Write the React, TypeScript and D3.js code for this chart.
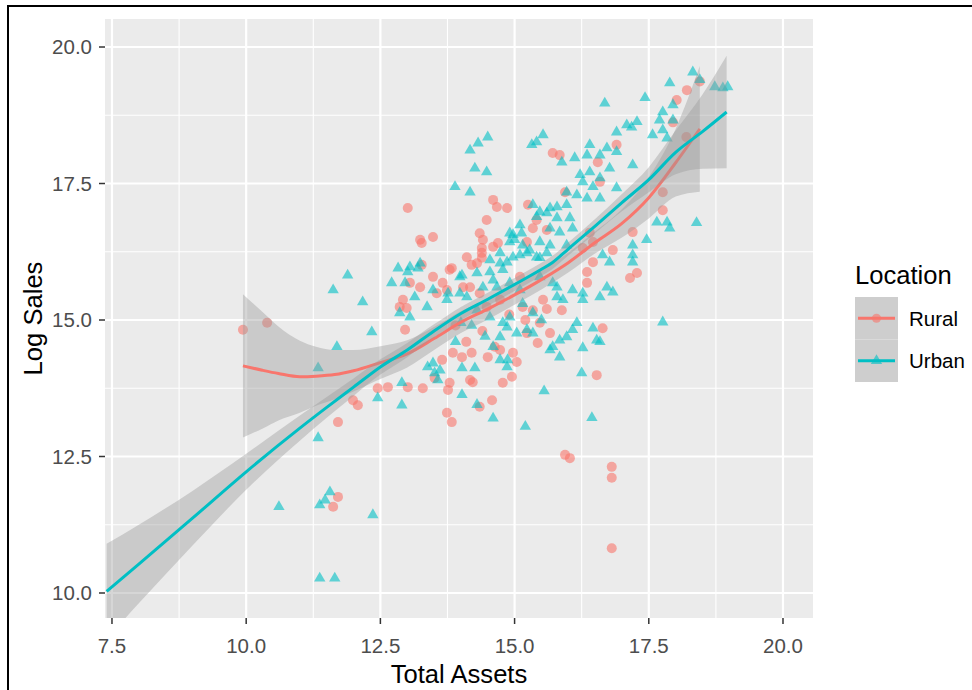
import React from "react";
import * as d3 from "d3";

const xTicks = [7.5, 10, 12.5, 15, 17.5, 20];
const yTicks = [10, 12.5, 15, 17.5, 20];
const xMinor = [8.75, 11.25, 13.75, 16.25, 18.75];
const yMinor = [11.25, 13.75, 16.25, 18.75];
const categories = ["Rural", "Urban"];
const colors = ["#F8766D", "#00BFC4"];
const xTitle = "Total Assets";
const yTitle = "Log Sales";
const legendTitle = "Location";

const ruralPoints: [number, number][] = [
  [9.94, 14.82], [10.39, 14.95],
  [13.01, 17.05], [14.48, 16.83], [14.67, 17.07], [13.48, 16.52], [13.27, 16.41], [14.39, 16.32], [14.69, 16.41],
  [14.39, 16.14], [13.83, 15.95], [14.2, 16.01], [13.27, 16.01],
  [12.92, 15.37], [12.99, 15.22], [13.05, 15.68], [13.79, 15.92], [13.66, 15.68], [13.55, 15.49], [14.04, 15.6],
  [14.3, 16.04], [14.39, 16.23],
  [13.74, 13.3], [13.83, 13.13], [14.35, 13.41], [14.17, 13.9], [13.76, 13.72], [11.99, 13.53], [12.08, 13.44],
  [11.71, 13.13], [13.01, 13.77], [12.64, 13.77], [12.45, 13.75], [13.51, 13.94], [13.65, 14.27], [14.02, 14.32],
  [14.5, 14.32], [14.63, 14.51], [12.96, 14.82],
  [11.62, 11.58], [11.71, 11.76],
  [16.35, 15.68], [15.88, 15.18], [15.15, 15.24], [15.47, 14.95], [15.43, 14.58], [16.64, 14.85], [14.97, 14.4],
  [15.04, 14.23], [14.95, 13.96], [14.78, 13.85], [16.53, 13.99], [15.94, 12.53], [16.03, 12.47], [16.81, 12.31],
  [16.81, 12.11], [16.81, 10.82], [14.73, 14.45],
  [13.29, 13.75], [13.79, 13.85], [14.22, 13.86], [14.58, 13.53], [13.85, 14.4], [14.2, 14.4],
  [13.24, 16.47], [14.11, 16.15], [14.41, 16.47], [14.6, 16.34], [14.35, 16.59], [14.6, 17.2], [14.17, 15.6],
  [14.35, 15.49], [14.73, 15.37], [14.48, 15.24], [13.74, 15.55], [13.48, 15.79], [13.24, 15.6], [12.86, 15.24],
  [15.34, 15.18], [15.53, 15.37], [15.23, 14.76], [15.66, 14.76], [15.1, 15.79],
  [18.45, 19.37], [18.21, 19.21], [18.02, 19.03], [16.9, 18.21], [15.71, 18.06], [15.84, 18.02], [16.55, 17.89],
  [16.59, 17.53], [15.94, 17.34], [15.25, 17.11], [14.86, 17.05], [15.41, 16.83], [15.34, 16.68], [15.6, 16.65],
  [15.23, 16.43], [17.76, 17.34], [17.76, 17.01], [17.2, 16.61], [16.46, 16.43], [16.27, 16.32], [16.46, 16.06],
  [16.35, 15.88], [17.15, 15.77], [17.95, 18.62], [18.2, 18.35], [16.4, 16.6], [17.28, 15.86], [16.83, 16.28],
  [14.9, 15.1], [15.2, 15.0], [15.6, 15.2], [14.4, 14.8], [14.1, 14.6], [13.9, 14.9],
];

const urbanPoints: [number, number][] = [
  [18.32, 19.54], [18.88, 19.25], [18.73, 19.27], [18.97, 19.27], [18.45, 19.4], [17.89, 19.34], [17.43, 19.07],
  [16.68, 18.97], [17.95, 18.94], [17.76, 18.81], [17.7, 18.66], [17.95, 18.66], [17.28, 18.63], [17.18, 18.53],
  [17.09, 18.57], [16.9, 18.44], [17.57, 18.39], [17.76, 18.48], [17.84, 18.33], [15.53, 18.39], [15.41, 18.26],
  [15.32, 18.21], [16.4, 18.21], [16.72, 18.15], [16.9, 18.08], [16.12, 17.97], [15.88, 17.89], [16.35, 18.02],
  [16.59, 18.02], [16.77, 17.78], [17.2, 17.84], [16.22, 17.66], [16.4, 17.71], [16.59, 17.6], [16.27, 17.53],
  [16.46, 17.44], [15.97, 17.34], [16.16, 17.29], [16.9, 17.42], [16.35, 17.23], [16.59, 17.23], [15.97, 17.11],
  [15.66, 17.05], [15.34, 17.11], [15.47, 16.98], [15.79, 16.87], [16.03, 16.87], [15.1, 16.74], [14.97, 16.56],
  [15.66, 16.68], [15.84, 16.61], [16.08, 16.68], [14.91, 16.43], [15.15, 16.37], [15.47, 16.43], [15.66, 16.37],
  [15.97, 16.37], [15.1, 16.19], [15.47, 16.14], [14.86, 16.06], [17.65, 16.79], [17.84, 16.79], [17.89, 16.68],
  [18.39, 16.78], [17.46, 16.47], [17.2, 16.37], [17.2, 16.19], [17.2, 16.06], [16.64, 16.19], [16.77, 16.06],
  [17.76, 14.96],
  [14.5, 18.35], [14.32, 18.24], [14.17, 18.11], [14.26, 17.78], [14.48, 17.71], [13.89, 17.44], [14.17, 17.34],
  [11.89, 15.82], [11.62, 15.55], [12.17, 15.33], [12.34, 14.78], [11.69, 14.51], [11.34, 14.12], [12.45, 13.57],
  [12.9, 13.44], [11.34, 12.84],
  [10.61, 11.58], [11.37, 11.61], [11.47, 11.7], [11.56, 11.85], [12.36, 11.43], [11.37, 10.27], [11.65, 10.27],
  [12.83, 15.95], [13.01, 15.88], [13.2, 15.95], [12.71, 15.68], [12.96, 15.68], [13.14, 15.42], [14.54, 15.88],
  [14.02, 15.82], [13.98, 15.49], [13.76, 15.49], [13.38, 14.14], [13.51, 14.03], [13.57, 13.9], [14.26, 14.12],
  [14.02, 14.12], [12.9, 13.85], [14.02, 13.63],
  [15.79, 15.6], [16.27, 15.49], [16.27, 15.37], [16.59, 15.42], [16.72, 15.6], [16.83, 15.51], [15.79, 15.42],
  [15.34, 15.13], [15.23, 14.82], [15.34, 14.76], [14.91, 15.05], [14.78, 14.95], [16.16, 14.95], [16.08, 14.82],
  [15.97, 14.69], [15.84, 14.63], [15.71, 14.51], [15.66, 14.45], [15.84, 14.32], [16.27, 14.49], [16.46, 14.85],
  [16.53, 14.63], [16.59, 14.6], [16.25, 14.03], [16.44, 13.21], [14.86, 14.14], [14.87, 14.27],
  [15.13, 16.59], [15.41, 16.89], [15.6, 16.96], [15.79, 17.07], [15.28, 16.28], [14.97, 16.15], [14.73, 16.04],
  [14.6, 15.73], [14.78, 15.92],
  [13.05, 15.97], [13.24, 16.04], [13.98, 15.79], [14.3, 15.86], [14.91, 16.59], [15.0, 16.47], [15.23, 16.23],
  [14.73, 16.23], [14.54, 16.1], [15.41, 16.15], [15.6, 16.23], [15.47, 15.79], [15.71, 15.68], [16.08, 15.55],
  [15.9, 15.37], [14.91, 15.68], [15.1, 15.55], [14.67, 15.6], [14.41, 15.6], [14.11, 15.42], [13.74, 15.37],
  [13.48, 15.55], [13.37, 15.24], [13.05, 15.05], [12.86, 15.13], [14.3, 15.18], [14.54, 15.05], [14.86, 14.87],
  [15.04, 14.76], [14.73, 14.69], [13.48, 14.21], [13.61, 14.08], [14.73, 14.27], [14.6, 14.51],
  [14.3, 13.45], [14.6, 13.2], [15.2, 13.05], [15.55, 13.7],
  [14.2, 14.9], [14.45, 14.7], [15.5, 15.0], [15.15, 15.3], [13.9, 14.6], [14.0, 14.95],
];

// [x, fitted y, standard-error half width]
const ruralFit: [number, number, number][] = [
  [9.94, 14.16, 1.31], [10.3, 14.08, 1.07], [10.6, 14.02, 0.86], [11.0, 13.96, 0.66], [11.3, 13.97, 0.54],
  [11.65, 14.0, 0.45], [12.0, 14.07, 0.38], [12.5, 14.22, 0.3], [13.0, 14.38, 0.25], [13.5, 14.66, 0.21],
  [14.0, 14.96, 0.2], [14.5, 15.2, 0.19], [15.0, 15.46, 0.18], [15.5, 15.74, 0.18], [16.0, 16.05, 0.18],
  [16.5, 16.42, 0.2], [17.0, 16.77, 0.26], [17.5, 17.24, 0.38], [18.0, 17.88, 0.62], [18.45, 18.5, 1.15],
];

const urbanFit: [number, number, number][] = [
  [7.4, 10.03, 0.87], [8.0, 10.53, 0.72], [9.0, 11.37, 0.5], [10.0, 12.22, 0.33], [11.0, 13.02, 0.23],
  [11.5, 13.4, 0.19], [12.0, 13.77, 0.16], [12.5, 14.14, 0.14], [13.0, 14.45, 0.13], [13.5, 14.8, 0.12],
  [14.0, 15.12, 0.12], [14.5, 15.38, 0.12], [15.0, 15.65, 0.12], [15.5, 15.93, 0.12], [15.7, 16.05, 0.12],
  [16.0, 16.3, 0.12], [16.5, 16.72, 0.13], [17.0, 17.15, 0.16], [17.5, 17.57, 0.23], [18.0, 18.07, 0.4],
  [18.5, 18.45, 0.68], [18.95, 18.81, 1.03],
];

const FONT = "'Liberation Sans', Arial, Helvetica, sans-serif";

export default function App() {
  const left = 105, right = 813, top = 19, bottom = 618;
  const x = d3.scaleLinear().domain([7.37, 20.559]).range([left, right]);
  const y = d3.scaleLinear().domain([9.542, 20.513]).range([bottom, top]);

  const area = d3
    .area<[number, number, number]>()
    .x((d) => x(d[0]))
    .y0((d) => y(d[1] - d[2]))
    .y1((d) => y(d[1] + d[2]))
    .curve(d3.curveMonotoneX);
  const line = d3
    .line<[number, number, number]>()
    .x((d) => x(d[0]))
    .y((d) => y(d[1]))
    .curve(d3.curveMonotoneX);
  const tri = d3.symbol(d3.symbolTriangle, 56)() as string;

  const fits = [ruralFit, urbanFit];

  return (
    <div>
      <style>{`body{margin:0;background:#fff}`}</style>
      <svg width={972} height={690} style={{ display: "block", fontFamily: FONT }}>
        <defs>
          <clipPath id="panel">
            <rect x={left} y={top} width={right - left} height={bottom - top} />
          </clipPath>
        </defs>
        <rect x={0} y={0} width={972} height={690} fill="#ffffff" />
        <rect x={8} y={6} width={1000} height={1000} fill="none" stroke="#000" strokeWidth={2} />
        <rect x={left} y={top} width={right - left} height={bottom - top} fill="#EBEBEB" />
        {xMinor.map((v) => (
          <line key={"xm" + v} x1={x(v)} x2={x(v)} y1={top} y2={bottom} stroke="#fff" strokeWidth={1.1} />
        ))}
        {yMinor.map((v) => (
          <line key={"ym" + v} x1={left} x2={right} y1={y(v)} y2={y(v)} stroke="#fff" strokeWidth={1.1} />
        ))}
        {xTicks.map((v) => (
          <line key={"xM" + v} x1={x(v)} x2={x(v)} y1={top} y2={bottom} stroke="#fff" strokeWidth={2.2} />
        ))}
        {yTicks.map((v) => (
          <line key={"yM" + v} x1={left} x2={right} y1={y(v)} y2={y(v)} stroke="#fff" strokeWidth={2.2} />
        ))}
        <g clipPath="url(#panel)">
          {ruralPoints.map((d, i) => (
            <circle key={"r" + i} cx={x(d[0])} cy={y(d[1])} r={5} fill={colors[0]} fillOpacity={0.6} />
          ))}
          {urbanPoints.map((d, i) => (
            <path key={"u" + i} d={tri} transform={`translate(${x(d[0])},${y(d[1])})`} fill={colors[1]} fillOpacity={0.6} />
          ))}
          {fits.map((f, i) => (
            <g key={"fit" + i}>
              <path d={area(f) as string} fill="#999999" fillOpacity={0.4} />
              <path d={line(f) as string} fill="none" stroke={colors[i]} strokeWidth={3} />
            </g>
          ))}
        </g>
        {xTicks.map((v) => (
          <g key={"xt" + v}>
            <line x1={x(v)} x2={x(v)} y1={bottom} y2={bottom + 6} stroke="#333" strokeWidth={1.5} />
            <text x={x(v)} y={653} textAnchor="middle" fontSize={20.5} fill="#4D4D4D">
              {v.toFixed(1)}
            </text>
          </g>
        ))}
        {yTicks.map((v) => (
          <g key={"yt" + v}>
            <line x1={left - 6} x2={left} y1={y(v)} y2={y(v)} stroke="#333" strokeWidth={1.5} />
            <text x={92} y={y(v) + 7.4} textAnchor="end" fontSize={20.5} fill="#4D4D4D">
              {v.toFixed(1)}
            </text>
          </g>
        ))}
        <text x={(left + right) / 2} y={683} textAnchor="middle" fontSize={25.6} fill="#000">
          {xTitle}
        </text>
        <text transform={`translate(42,${(top + bottom) / 2}) rotate(-90)`} textAnchor="middle" fontSize={25.6} fill="#000">
          {yTitle}
        </text>
        <text x={855} y={284} fontSize={25.6} fill="#000">
          {legendTitle}
        </text>
        {categories.map((c, i) => {
          const ky = 297 + i * 42.5;
          const cy = ky + 21.25;
          return (
            <g key={"lg" + c}>
              <rect x={855} y={ky} width={43} height={42.5} fill="#F2F2F2" />
              <rect x={855} y={ky} width={43} height={42.5} fill="#999999" fillOpacity={0.4} />
              <line x1={858} x2={895} y1={cy} y2={cy} stroke={colors[i]} strokeWidth={3} />
              {i === 0 ? (
                <circle cx={876.5} cy={cy} r={4.6} fill={colors[0]} fillOpacity={0.6} />
              ) : (
                <path d={tri} transform={`translate(876.5,${cy})`} fill={colors[1]} fillOpacity={0.6} />
              )}
              <text x={909} y={cy + 7.4} fontSize={20.5} fill="#000">
                {c}
              </text>
            </g>
          );
        })}
      </svg>
    </div>
  );
}
